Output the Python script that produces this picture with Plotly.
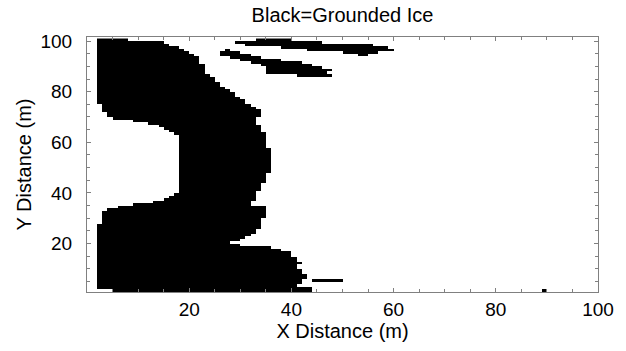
import numpy as np
import plotly.graph_objects as go

# Grid: cells span [i, i+1] in x (0..99) and [j, j+1] in y (0..100)
NX, NY = 100, 101

# Main grounded body: (row, x_from, x_to)
main_rows = [
    (100, 2, 8), (99, 2, 15), (98, 2, 16), (97, 2, 18), (96, 2, 19), (95, 2, 20),
    (94, 2, 21), (93, 2, 22), (92, 2, 22), (91, 2, 22), (90, 2, 23), (89, 2, 23),
    (88, 2, 23), (87, 2, 23), (86, 2, 24), (85, 2, 25), (84, 2, 25), (83, 2, 26),
    (82, 2, 26), (81, 2, 27), (80, 2, 28), (79, 2, 29), (78, 2, 29), (77, 2, 30),
    (76, 2, 31), (75, 2, 31), (74, 3, 32), (73, 3, 33), (72, 3, 34), (71, 4, 34),
    (70, 4, 34), (69, 5, 33), (68, 9, 33), (67, 12, 33), (66, 14, 34), (65, 15, 34),
    (64, 16, 34), (63, 17, 35), (62, 18, 35), (61, 18, 35), (60, 18, 35), (59, 18, 35),
    (58, 18, 35), (57, 18, 36), (56, 18, 36), (55, 18, 36), (54, 18, 36), (53, 18, 36),
    (52, 18, 36), (51, 18, 36), (50, 18, 36), (49, 18, 36), (48, 18, 36), (47, 18, 35),
    (46, 18, 35), (45, 18, 35), (44, 18, 35), (43, 18, 34), (42, 18, 34), (41, 18, 34),
    (40, 18, 33), (39, 17, 33), (38, 16, 33), (37, 15, 33), (36, 13, 32), (35, 9, 32),
    (34, 6, 35), (33, 4, 35), (32, 3, 35), (31, 3, 35), (30, 3, 35), (29, 3, 34),
    (28, 3, 34), (27, 2, 34), (26, 2, 34), (25, 2, 33), (24, 2, 33), (23, 2, 32),
    (22, 2, 31), (21, 2, 30), (20, 2, 28), (19, 2, 30), (18, 2, 36), (17, 2, 38),
    (16, 2, 40), (15, 2, 40), (14, 2, 41), (13, 2, 41), (12, 2, 42), (11, 2, 41),
    (10, 2, 41), (9, 2, 42), (8, 2, 42), (7, 2, 43), (6, 2, 43), (5, 2, 42),
    (4, 2, 42), (3, 2, 41), (2, 2, 44), (1, 5, 44),
]

# Detached patches (row, x_from, x_to)
tail_rows = [(5, 44, 50), (1, 89, 90)]

upper_island = [
    (100, 33, 40), (99, 29, 46), (98, 31, 56), (97, 38, 59), (96, 43, 60),
    (95, 50, 57), (94, 53, 55),
]

lower_island = [
    (96, 27, 28), (95, 26, 30), (94, 26, 32), (93, 28, 34), (92, 30, 38),
    (91, 32, 42), (90, 34, 44), (89, 35, 46), (88, 35, 48), (87, 35, 47),
    (86, 41, 48),
]

z = np.zeros((NY, NX))
for rows in (main_rows, tail_rows, upper_island, lower_island):
    for r, a, b in rows:
        z[r, a:b] = 1

xc = np.arange(NX) + 0.5
yc = np.arange(NY) + 0.5

fig = go.Figure(go.Heatmap(
    x=xc, y=yc, z=z, zmin=0, zmax=1,
    colorscale=[[0, "white"], [1, "black"]],
    showscale=False, hoverinfo="skip",
))

FONT = "Liberation Sans, Arial, sans-serif"
axis_common = dict(
    showgrid=False, zeroline=False, showline=True, linecolor="#808080", linewidth=1,
    mirror="ticks", ticks="inside", ticklen=4, tickcolor="#808080", tickwidth=1,
    tickfont=dict(family=FONT, size=19, color="black"),
    minor=dict(ticks="inside", ticklen=3, tickcolor="#808080", dtick=5, showgrid=False),
)

fig.update_layout(
    width=626, height=351,
    margin=dict(l=87, r=28, t=37, b=59, autoexpand=False),
    paper_bgcolor="white", plot_bgcolor="white",
    title=dict(text="Black=Grounded Ice", x=0.5, xref="paper", xanchor="center",
               y=1 - 15 / 351, yref="container", yanchor="middle",
               font=dict(family=FONT, size=20, color="black")),
    xaxis=dict(range=[0, 100], tick0=0, dtick=20, tickvals=[20, 40, 60, 80, 100],
               ticklabelstandoff=0,
               title=dict(text="X Distance (m)", standoff=0,
                          font=dict(family=FONT, size=20, color="black")),
               **axis_common),
    yaxis=dict(range=[0.83, 101.6], tick0=0, dtick=20, tickvals=[20, 40, 60, 80, 100],
               ticklabelstandoff=10,
               title=dict(text="Y Distance (m)", standoff=3,
                          font=dict(family=FONT, size=20, color="black")),
               **axis_common),
)
fig.write_html("out.html", config={"displayModeBar": False},
               post_script="document.body.style.margin='0';")
